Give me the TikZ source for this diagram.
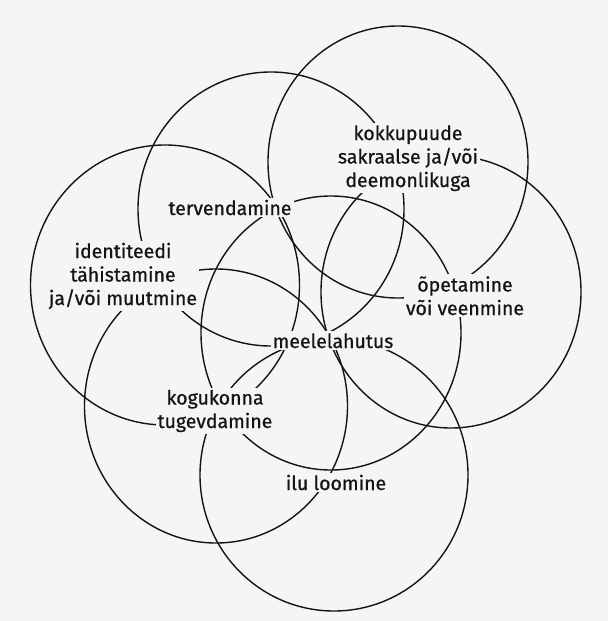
\documentclass[tikz,border=0pt]{standalone}
\usepackage{fontspec}
\setmainfont{Fira Sans}
\newfontfamily\lblfont{Fira Sans}[FakeBold=0.7]
\usepackage{tikz}
\usetikzlibrary{backgrounds}

\definecolor{paper}{RGB}{245,245,245}
\definecolor{ink}{RGB}{20,20,20}

\tikzset{
	ring/.style={draw=ink, line width=1.4pt},
	lbl/.style={fill=paper, inner sep=2pt, align=center, text=ink,
		font=\lblfont\fontsize{19.5}{23.5}\selectfont, anchor=base},
}

\begin{document}
\begin{tikzpicture}[x=1pt,y=-1pt]

	% Labels (base = last line)
	\node[lbl] (meele) at (333,348) {meelelahutus};
	\node[lbl] (kokku) at (408,187) {kokkupuude\\sakraalse ja/või\\deemonlikuga};
	\node[lbl] (terve) at (230,215) {tervendamine};
	\node[lbl] (ident) at (123,305) {identiteedi\\tähistamine\\ja/või muutmine};
	\node[lbl] (opeta) at (465,315) {õpetamine\\või veenmine};
	\node[lbl] (kogu) at (215,428) {kogukonna\\tugevdamine};
	\node[lbl] (ilu) at (336,490) {ilu loomine};

	\begin{scope}[on background layer]
		\fill[paper] (0,0) rectangle (608,621);
		\useasboundingbox (0,0) rectangle (608,621);

		% Circles
		\draw[ring] (331,333) ellipse [x radius=130, y radius=137];
		\draw[ring] (398,162) ellipse [x radius=130, y radius=136];
		\draw[ring] (451,292) ellipse [x radius=130, y radius=136];
		\draw[ring] (334,475) ellipse [x radius=134, y radius=136];
		\draw[ring] (216,406) ellipse [x radius=131.5, y radius=137];
		\draw[ring] (165,285) ellipse [x radius=134.5, y radius=140];
		\draw[ring] (271,209) ellipse [x radius=133, y radius=137];
	\end{scope}
\end{tikzpicture}
\end{document}
